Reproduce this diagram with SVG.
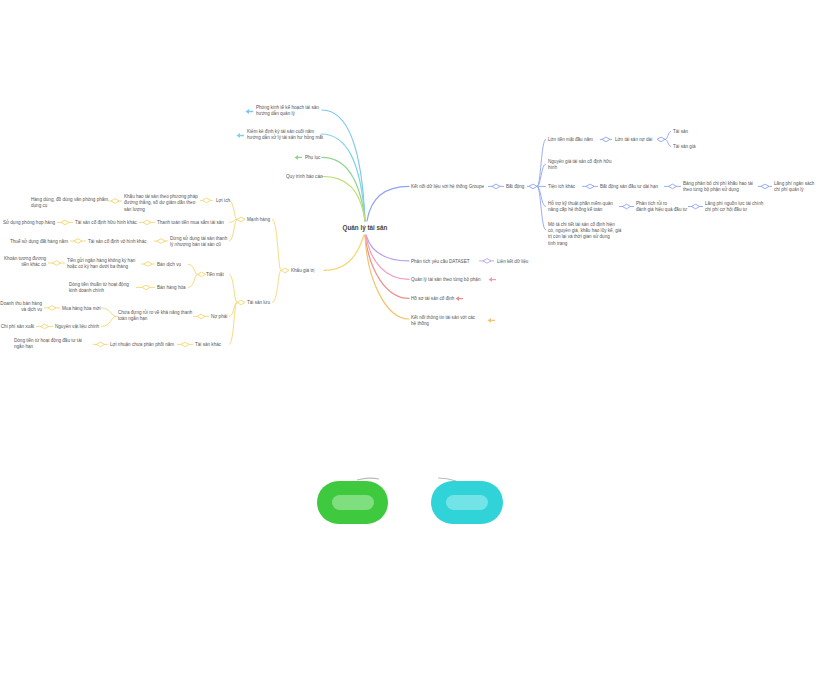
<svg xmlns="http://www.w3.org/2000/svg" xmlns:xlink="http://www.w3.org/1999/xlink" width="821" height="676" viewBox="0 0 821 676">
<style>
.t{font-family:"Liberation Sans","Noto Sans",sans-serif;font-size:4.6px;fill:#555}
.e{text-anchor:end}
.root{font-family:"Liberation Sans","Noto Sans",sans-serif;font-size:6.3px;font-weight:bold;fill:#444;text-anchor:middle}
.c{fill:none;stroke-width:1.2;stroke-linecap:round}
.l{fill:none;stroke-width:0.9}
.bl{stroke:#90a4ef}.yl{stroke:#f5d670}.pu{stroke:#b8a3ee}
.dB{fill:#fff;stroke:#90a4ef;stroke-width:0.9}
.dY{fill:#fff;stroke:#f5d670;stroke-width:0.9}
.dP{fill:#fff;stroke:#b8a3ee;stroke-width:0.9}
</style>
<defs>
<path id="dm" d="M-4,0 L0,-2.3 L4,0 L0,2.3 Z"/>
<path id="ar" d="M-3.5,0 L0,-2.4 L0,-0.7 L4,-0.7 L4,0.7 L0,0.7 L0,2.4 Z"/>
</defs>
<rect width="821" height="676" fill="#fff"/>
<g id="connectors">
<path class="c" stroke="#7dc6ec" d="M365,221 C362,150 348,110 322,110"/>
<path class="c" stroke="#80d4e2" d="M365,221 C361,160 346,134 321,134"/>
<path class="c" stroke="#8ed68e" d="M365,221 C360,178 345,157.4 322,157.4"/>
<path class="c" stroke="#c3dd74" d="M365,221 C360,188 346,176.4 322,176.4"/>
<path class="c" stroke="#90a4ef" d="M367,221 C371,196 386,186.4 409,186.4"/>
<path class="c" stroke="#b8a3ee" d="M366,235 C371,252 386,260.9 409,260.9"/>
<path class="c" stroke="#f09cb6" d="M366,235 C370,262 386,279.4 409,279.4"/>
<path class="c" stroke="#f08d8c" d="M365,235 C369,270 386,298.4 409,298.4"/>
<path class="c" stroke="#f4c46c" d="M365,235 C367,280 386,319 409,319"/>
<path class="c" stroke="#f5d670" d="M364,235 C356,260 344,270.4 324,270.4"/>
<use href="#ar" x="249" y="111.5" fill="#7dc6ec"/>
<use href="#ar" x="240" y="135.5" fill="#80d4e2"/>
<use href="#ar" x="298" y="157.4" fill="#8ed68e"/>
<use href="#ar" x="492" y="279.6" fill="#f09cb6"/>
<use href="#ar" x="459" y="298.6" fill="#f08d8c"/>
<use href="#ar" x="491" y="320.4" fill="#f4c46c"/>
<path class="l bl" d="M488,186.4H504 M527,186.4H537 M600,139.4H612 M657,139.4H665 M582,186.4H598 M664,186.4H681 M758,186.4H772 M619,206.5H634 M688,206.5H703"/>
<path class="l bl" d="M537,186.4 C541,186.4 541,139.4 546,139.4 M537,186.4 C541,186.4 541,164 546,164 M537,186.4H546 M537,186.4 C541,186.4 541,206.5 546,206.5 M537,186.4 C541,186.4 541,230 546,230"/>
<path class="l bl" d="M665,139.4 C668,139.4 668,131.4 671,131.4 M665,139.4 C668,139.4 668,146.4 671,146.4"/>
<use href="#dm" x="496" y="186.4" class="dB"/>
<use href="#dm" x="533" y="186.4" class="dB"/>
<use href="#dm" x="606" y="139.4" class="dB"/>
<use href="#dm" x="661" y="139.4" class="dB"/>
<use href="#dm" x="590" y="186.4" class="dB"/>
<use href="#dm" x="672.5" y="186.4" class="dB"/>
<use href="#dm" x="765" y="186.4" class="dB"/>
<use href="#dm" x="626.5" y="206.5" class="dB"/>
<use href="#dm" x="695.5" y="206.5" class="dB"/>
<path class="l pu" d="M479,260.9H494"/>
<use href="#dm" x="487" y="260.9" class="dP"/>
<path class="l yl" d="M281,270.4H289 M281,270.4 C278,270.4 278,219.4 272,219.4 M281,270.4 C278,270.4 278,302.4 272,302.4"/>
<path class="l yl" d="M237,219.4H245 M237,219.4 C234,219.4 234,200.4 229,200.4 M237,219.4 C234,219.4 234,222.4 229,222.4 M237,219.4 C234,219.4 234,241 229,241"/>
<path class="l yl" d="M237,302.4H245 M237,302.4 C234,302.4 234,274.4 229,274.4 M237,302.4 C234,302.4 234,316.4 229,316.4 M237,302.4 C234,302.4 234,344.4 229,344.4"/>
<path class="l yl" d="M197.5,274.4H205 M197.5,274.4 C194.5,274.4 194.5,264.4 188,264.4 M197.5,274.4 C194.5,274.4 194.5,287.4 188,287.4"/>
<path class="l yl" d="M116,316.4H118 M116,316.4 C111,316.4 111,307.9 101,307.9 M116,316.4 C111,316.4 111,326.4 101,326.4"/>
<path class="l yl" d="M200,200.4H213 M108,201H122 M139,222.4H155 M57,222.4H73 M154,241H168 M70,241H86 M141,264H155 M48,263H65 M136,287.4H155 M193,316.4H209 M44,307.9H60 M36,326.4H53 M177,344.4H193 M93,344.4H108"/>
<use href="#dm" x="285" y="270.4" class="dY"/>
<use href="#dm" x="241" y="219.4" class="dY"/>
<use href="#dm" x="241" y="302.4" class="dY"/>
<use href="#dm" x="201.5" y="274.4" class="dY"/>
<use href="#dm" x="206.5" y="200.4" class="dY"/>
<use href="#dm" x="115" y="201" class="dY"/>
<use href="#dm" x="147" y="222.4" class="dY"/>
<use href="#dm" x="65" y="222.4" class="dY"/>
<use href="#dm" x="161" y="241" class="dY"/>
<use href="#dm" x="78" y="241" class="dY"/>
<use href="#dm" x="148" y="264" class="dY"/>
<use href="#dm" x="56.5" y="263" class="dY"/>
<use href="#dm" x="146" y="287.4" class="dY"/>
<use href="#dm" x="201" y="316.4" class="dY"/>
<use href="#dm" x="52" y="307.9" class="dY"/>
<use href="#dm" x="44.5" y="326.4" class="dY"/>
<use href="#dm" x="185" y="344.4" class="dY"/>
<use href="#dm" x="100.5" y="344.4" class="dY"/>
</g>
<g id="root"><text class="root" x="365" y="230">Quản lý tài sản</text></g>
<g id="n1"><text class="t" x="256" y="108.6">Phòng kinh tế kế hoạch tài sản<tspan x="256" dy="6.3">hướng dẫn quản lý</tspan></text></g>
<g id="n2"><text class="t" x="247" y="132.6">Kiểm kê định kỳ tài sản cuối năm<tspan x="247" dy="6.3">hướng dẫn xử lý tài sản hư hỏng mất</tspan></text></g>
<g id="n3"><text class="t" x="305" y="159">Phụ lục</text></g>
<g id="n4"><text class="t" x="286" y="178">Quy trình báo cáo</text></g>
<g id="r1"><text class="t" x="411" y="188">Kết nối dữ liệu với hệ thống Groupe</text></g>
<g id="r2"><text class="t" x="506" y="188">Bất động</text></g>
<g id="r3"><text class="t" x="548" y="141">Lớn tiền mặt đầu năm</text></g>
<g id="r3a"><text class="t" x="615" y="141">Lớn tài sản nợ dài</text></g>
<g id="r3b"><text class="t" x="673" y="133">Tài sản</text></g>
<g id="r3c"><text class="t" x="673" y="148">Tài sản giá</text></g>
<g id="r4"><text class="t" x="548" y="162.5">Nguyên giá tài sản cố định hữu<tspan x="548" dy="6.3">hình</tspan></text></g>
<g id="r5"><text class="t" x="548" y="188">Tiện ích khác</text></g>
<g id="r5a"><text class="t" x="600" y="188">Bất động sản đầu tư dài hạn</text></g>
<g id="r5b"><text class="t" x="683" y="184.5">Bảng phân bổ chi phí khấu hao tài<tspan x="683" dy="6.3">theo từng bộ phận sử dụng</tspan></text></g>
<g id="r5c"><text class="t" x="774" y="184.5">Lãng phí ngân sách<tspan x="774" dy="6.3">chi phí quản lý</tspan></text></g>
<g id="r6"><text class="t" x="548" y="205">Hỗ trợ kỹ thuật phần mềm quản<tspan x="548" dy="6.3">nâng cấp hệ thống kế toán</tspan></text></g>
<g id="r6a"><text class="t" x="636" y="205">Phân tích rủi ro<tspan x="636" dy="6.3">đánh giá hiệu quả đầu tư</tspan></text></g>
<g id="r6b"><text class="t" x="705" y="205">Lãng phí nguồn lực tài chính<tspan x="705" dy="6.3">chi phí cơ hội đầu tư</tspan></text></g>
<g id="r7"><text class="t" x="548" y="225.6">Mô tả chi tiết tài sản cố định hiện<tspan x="548" dy="6.3">có, nguyên giá, khấu hao lũy kế, giá</tspan><tspan x="548" dy="6.3">trị còn lại và thời gian sử dụng</tspan><tspan x="548" dy="6.3">tình trạng</tspan></text></g>
<g id="b1"><text class="t" x="411" y="262.5">Phân tích yêu cầu DATASET</text></g>
<g id="b1a"><text class="t" x="497" y="262.5">Liên kết dữ liệu</text></g>
<g id="b2"><text class="t" x="411" y="281">Quản lý tài sản theo từng bộ phận</text></g>
<g id="b3"><text class="t" x="411" y="300">Hồ sơ tài sản cố định</text></g>
<g id="b4"><text class="t" x="411" y="318.6">Kết nối thông tin tài sản với các<tspan x="411" dy="6.3">hệ thống</tspan></text></g>
<g id="y0"><text class="t" x="291" y="272">Khẩu giá trị</text></g>
<g id="y1"><text class="t" x="247" y="221">Mạnh hàng</text></g>
<g id="y2"><text class="t" x="247" y="304">Tài sản lưu</text></g>
<g id="y1a"><text class="t" x="216" y="202">Lợi ích</text></g>
<g id="y1a1"><text class="t" x="124" y="198">Khấu hao tài sản theo phương pháp<tspan x="124" dy="6.3">đường thẳng, số dư giảm dần theo</tspan><tspan x="124" dy="6.3">sản lượng</tspan></text></g>
<g id="y1a2"><text class="t" x="31" y="200.6">Hàng dùng, đồ dùng văn phòng phẩm<tspan x="31" dy="6.3">dụng cụ</tspan></text></g>
<g id="y1b"><text class="t" x="157" y="224">Thanh toán tiền mua sắm tài sản</text></g>
<g id="y1b1"><text class="t" x="75" y="224">Tài sản cố định hữu hình khác</text></g>
<g id="y1b2"><text class="t e" x="55" y="224">Sử dụng phòng họp hàng</text></g>
<g id="y1c"><text class="t" x="170" y="239.5">Dừng sử dụng tài sản thanh<tspan x="170" dy="6.3">lý nhượng bán tài sản cũ</tspan></text></g>
<g id="y1c1"><text class="t" x="88" y="242.6">Tài sản cố định vô hình khác</text></g>
<g id="y1c2"><text class="t e" x="68" y="242.6">Thuế sử dụng đất hàng năm</text></g>
<g id="y2a"><text class="t" x="206" y="276">Tiền mặt</text></g>
<g id="y2a1"><text class="t" x="157" y="266">Bán dịch vụ</text></g>
<g id="y2a1a"><text class="t" x="67" y="262">Tiền gửi ngân hàng không kỳ hạn<tspan x="67" dy="6.3">hoặc có kỳ hạn dưới ba tháng</tspan></text></g>
<g id="y2a1b"><text class="t e" x="46" y="259.5">Khoản tương đương<tspan x="46" dy="6.3">tiền khác có</tspan></text></g>
<g id="y2a2"><text class="t" x="157" y="289">Bán hàng hóa</text></g>
<g id="y2a2a"><text class="t" x="69" y="285.5">Dòng tiền thuần từ hoạt động<tspan x="69" dy="6.3">kinh doanh chính</tspan></text></g>
<g id="y2b"><text class="t" x="211" y="318">Nợ phải</text></g>
<g id="y2b1"><text class="t" x="118" y="314">Chứa đựng rủi ro về khả năng thanh<tspan x="118" dy="6.3">toán ngắn hạn</tspan></text></g>
<g id="y2b1a"><text class="t" x="62" y="309.5">Mua hàng hóa mới</text></g>
<g id="y2b1a1"><text class="t e" x="42" y="305">Doanh thu bán hàng<tspan x="42" dy="6.3">và dịch vụ</tspan></text></g>
<g id="y2b1b"><text class="t" x="55" y="328">Nguyên vật liệu chính</text></g>
<g id="y2b1b1"><text class="t e" x="34" y="328">Chi phí sản xuất</text></g>
<g id="y2c"><text class="t" x="195" y="346">Tài sản khác</text></g>
<g id="y2c1"><text class="t" x="110" y="346">Lợi nhuận chưa phân phối năm</text></g>
<g id="y2c2"><text class="t" x="14" y="342">Dòng tiền từ hoạt động đầu tư tài<tspan x="14" dy="6.3">ngắn hạn</tspan></text></g>
<g id="pill-green">
<path d="M357,480 Q368,477 379,479" fill="none" stroke="#bbb" stroke-width="1.2"/>
<rect x="317" y="481" width="71" height="43" rx="21.5" fill="#3ec93e"/>
<rect x="332" y="495" width="42" height="15" rx="7.5" fill="#7fdf7f"/>
</g>
<g id="pill-cyan">
<path d="M438,478 Q447,478 456,481" fill="none" stroke="#bbb" stroke-width="1.2"/>
<rect x="431" y="481" width="72" height="43" rx="21.5" fill="#2fd3d8"/>
<rect x="446" y="495" width="42" height="15" rx="7.5" fill="#72e3e6"/>
</g>
</svg>
